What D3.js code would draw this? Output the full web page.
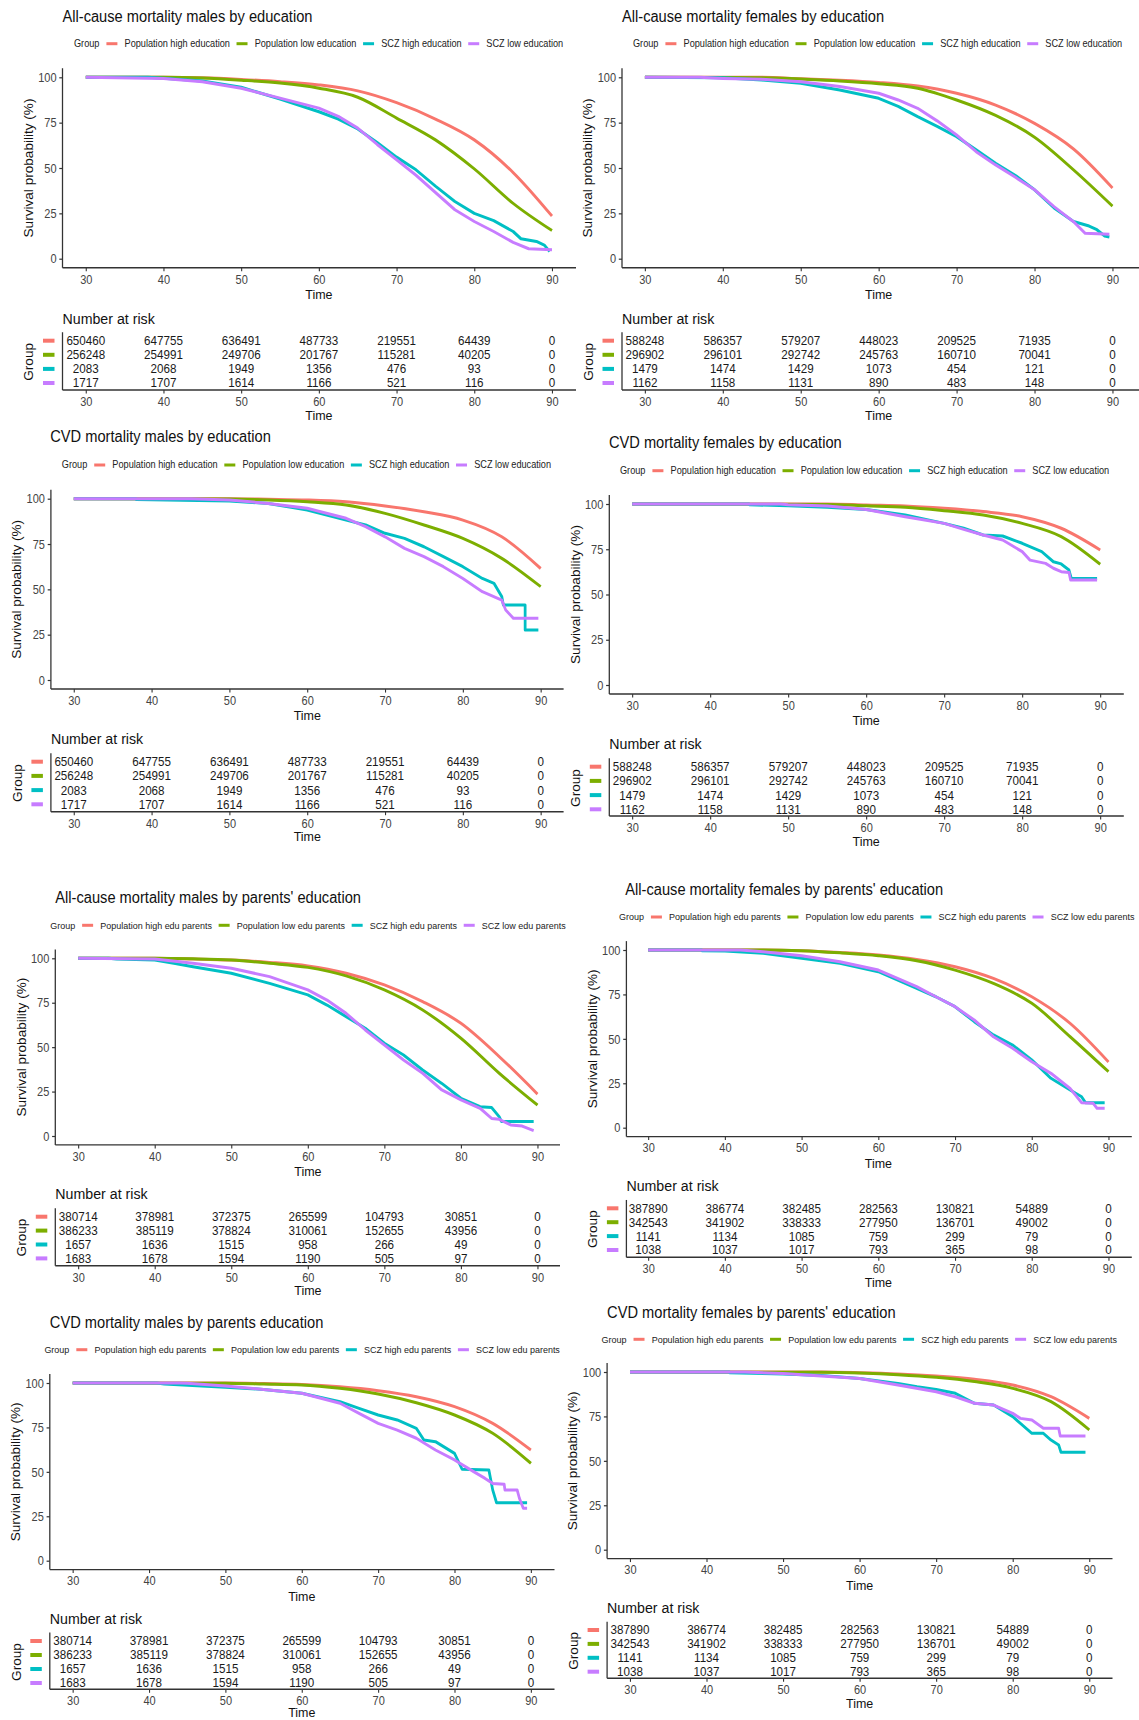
<!DOCTYPE html>
<html>
<head>
<meta charset="utf-8">
<script src="https://cdn.jsdelivr.net/npm/d3@7"></script>
<style>
  body { margin: 0; background: #fff; }
  svg { display: block; font-family: "Liberation Sans", Arial, sans-serif; }
</style>
</head>
<body>
<svg id="chart" width="1139" height="1720"></svg>
<script>
"use strict";

// ---- data ----
const timeTicks = [30, 40, 50, 60, 70, 80, 90];
const survTicks = [0, 25, 50, 75, 100];
const groupColors = ["#F8766D", "#7CAE00", "#00BFC4", "#C77CFF"];

const eduLabels = ["Population high education", "Population low education", "SCZ high education", "SCZ low education"];
const parentLabels = ["Population high edu parents", "Population low edu parents", "SCZ high edu parents", "SCZ low edu parents"];

const titles = [
  "All-cause mortality males by education",
  "All-cause mortality females by education",
  "CVD mortality males by education",
  "CVD mortality females by education",
  "All-cause mortality males by parents' education",
  "All-cause mortality females by parents' education",
  "CVD mortality males by parents education",
  "CVD mortality females by parents' education"
];

// number at risk, rows = groups, columns = timeTicks
const riskMalesEdu = [
  [650460, 647755, 636491, 487733, 219551, 64439, 0],
  [256248, 254991, 249706, 201767, 115281, 40205, 0],
  [2083, 2068, 1949, 1356, 476, 93, 0],
  [1717, 1707, 1614, 1166, 521, 116, 0]
];
const riskFemalesEdu = [
  [588248, 586357, 579207, 448023, 209525, 71935, 0],
  [296902, 296101, 292742, 245763, 160710, 70041, 0],
  [1479, 1474, 1429, 1073, 454, 121, 0],
  [1162, 1158, 1131, 890, 483, 148, 0]
];
const riskMalesParents = [
  [380714, 378981, 372375, 265599, 104793, 30851, 0],
  [386233, 385119, 378824, 310061, 152655, 43956, 0],
  [1657, 1636, 1515, 958, 266, 49, 0],
  [1683, 1678, 1594, 1190, 505, 97, 0]
];
const riskFemalesParents = [
  [387890, 386774, 382485, 282563, 130821, 54889, 0],
  [342543, 341902, 338333, 277950, 136701, 49002, 0],
  [1141, 1134, 1085, 759, 299, 79, 0],
  [1038, 1037, 1017, 793, 365, 98, 0]
];

// survival (%): [age, survival]
const allMalesEduPopHigh = [[30,100],[40,100],[45,99.7],[50,98.8],[55,97.6],[60,95.8],[65,92.5],[70,86],[75,77],[80,65.5],[85,47.5],[90,23.5]];
const allMalesEduPopLow = [[30,100],[40,100],[45,99.6],[50,98.4],[55,96.8],[60,94],[65,89],[70,77.5],[75,65.5],[80,49.5],[85,30.5],[90,15.5]];
const allMalesEduSczHigh = [[30,100],[38,100],[40,99.5],[45,98],[50,94.5],[55,88],[60,81],[62.5,77],[65,71.5],[67.5,64],[70,56],[72.5,49],[75,40],[77.5,31.5],[80,25],[82.5,21],[85,15],[86,11],[88,9.5],[89,7.5],[89.7,4]];
const allMalesEduSczLow = [[30,100],[40,99.3],[45,97.5],[50,94],[55,88.5],[60,83],[62.5,78.5],[65,72],[67.5,63],[70,54.5],[72.5,46],[75,36.5],[77.5,27],[80,20.5],[82.5,15],[85,9],[87,5.5],[90,5]];

const allFemalesEduPopHigh = [[30,100],[45,100],[50,99.2],[55,98.4],[60,97.2],[65,95.2],[70,91.2],[75,84.7],[80,74.6],[85,60.5],[90,39]];
const allFemalesEduPopLow = [[30,100],[45,99.8],[50,99],[55,98],[60,96.5],[65,94],[70,87.5],[75,79],[80,67],[85,49],[90,29]];
const allFemalesEduSczHigh = [[30,100],[40,99.7],[45,98.5],[50,96.7],[55,93],[60,88.4],[62.5,84],[65,78.3],[67.5,73],[70,67.3],[72.5,60],[75,52.6],[77.5,46],[80,38],[82.5,28],[85,20.5],[87,18],[88,16],[89,12.5],[89.6,12]];
const allFemalesEduSczLow = [[30,100],[37,100],[40,99.4],[45,98.9],[50,97.6],[55,94.9],[60,91.2],[62.5,87.5],[65,82.9],[67.5,76],[70,68.2],[72.5,59],[75,51.7],[77.5,45],[80,38],[82.5,28.7],[85,20.4],[86.5,14],[89.6,13.5]];

const cvdMalesEduPopHigh = [[30,100],[50,100],[55,99.7],[60,99.3],[65,98.3],[70,96],[75,92.8],[80,88.2],[85,79],[90,61.5]];
const cvdMalesEduPopLow = [[30,100],[50,99.8],[55,99.3],[60,98.3],[65,96.5],[70,91.9],[75,85.5],[80,78.1],[85,67.1],[90,51.5]];
const cvdMalesEduSczHigh = [[30,100],[38,100],[38,99.5],[50,98.7],[55,97.4],[60,93.8],[65,88.2],[67.5,85.5],[70,80.9],[72.5,78.1],[75,73.5],[77.5,68],[80,62.5],[82.5,56],[84,53.3],[85,46],[85.2,41.4],[88,41.4],[88,27.6],[89.7,27.6]];
const cvdMalesEduSczLow = [[30,100],[45,100],[50,99.3],[55,97.4],[60,94.7],[65,89.2],[67.5,84.6],[70,79],[72.5,72.6],[75,68],[77.5,62.5],[80,56],[82.5,48.7],[85,44.1],[85.5,38.6],[86.5,34],[89.7,34]];

const cvdFemalesEduPopHigh = [[30,100],[55,100],[60,99.4],[65,98.9],[70,97.6],[75,95.8],[80,93],[85,86.6],[90,74.6]];
const cvdFemalesEduPopLow = [[30,100],[55,99.7],[60,99],[65,98.2],[70,96.3],[75,93.9],[80,89.3],[85,82],[90,66.7]];
const cvdFemalesEduSczHigh = [[30,100],[45,100],[45,99.6],[50,99],[55,98.2],[60,97],[65,93.9],[70,89.3],[72.5,86.6],[75,82.9],[77.5,82.3],[80,78.3],[82.5,73.7],[84,68.1],[85,66.9],[86,63.5],[86.3,58.9],[89.6,58.9]];
const cvdFemalesEduSczLow = [[30,100],[49,100],[50,99.6],[55,98.9],[60,97],[65,93],[70,89.3],[72.5,86],[75,82.9],[77.5,80.1],[80,73.7],[81,69],[83,67.2],[84,64.5],[85,62.6],[86,62.2],[86.2,58],[89.6,58]];

const allMalesParPopHigh = [[30,100],[40,100],[45,99.6],[50,99],[55,97.7],[60,95.7],[65,91.6],[70,85],[75,75.6],[80,63.4],[85,44.7],[90,23.6]];
const allMalesParPopLow = [[30,100],[40,100],[45,99.7],[50,99],[55,97.2],[60,94.9],[65,90.1],[70,82.2],[75,70.9],[80,55],[85,35.3],[90,17.4]];
const allMalesParSczHigh = [[30,100],[34,100],[35,99.6],[40,99],[42.5,97.2],[45,95.3],[50,91.6],[55,85.9],[60,79.4],[62.5,73.7],[65,67.2],[67.5,60.6],[70,52.2],[72.5,45.6],[75,37.1],[77.5,29.6],[80,21.2],[82.5,16.5],[84,16.1],[85,10.9],[85.3,8.1],[89.5,8.1]];
const allMalesParSczLow = [[30,100],[40,99.6],[45,97.2],[50,94.4],[55,89.7],[60,82.2],[62.5,76.5],[65,69],[67.5,59.7],[70,51.2],[72.5,42.8],[75,35.3],[77.5,25.9],[80,20.3],[82.5,15.6],[84,9.9],[85,9.4],[86.5,6.2],[88,5.6],[89.5,3]];

const allFemalesParPopHigh = [[30,100],[45,100],[50,99.6],[55,98.6],[60,97.2],[65,94.7],[70,90.6],[75,84],[80,73.7],[85,58.7],[90,37]];
const allFemalesParPopLow = [[30,100],[45,100],[50,99.6],[55,98.4],[60,96.8],[65,94],[70,88.7],[75,81.2],[80,70],[85,51.2],[90,31.5]];
const allFemalesParSczHigh = [[30,100],[37,100],[37,99.6],[40,99.4],[45,98.1],[50,95.3],[55,92.5],[60,87.8],[65,78.4],[67.5,73.7],[70,68.1],[72.5,59.7],[75,52.2],[77.5,46.5],[80,38.1],[82.5,27.8],[85,21.2],[86.5,17.4],[87,14.1],[89.5,14.1]];
const allFemalesParSczLow = [[30,100],[42,100],[45,99],[50,96.8],[55,93.4],[60,88.7],[65,79.4],[67.5,73.7],[70,68.1],[72.5,60.6],[75,51.2],[77.5,44.7],[80,37.1],[82.5,30.6],[85,22.1],[86.5,14.1],[88,13.7],[88.5,10.9],[89.5,10.9]];

const cvdMalesParPopHigh = [[30,100],[50,100],[55,99.7],[60,99.2],[65,97.9],[70,95.7],[75,92.3],[80,86.7],[85,77.3],[90,62.3]];
const cvdMalesParPopLow = [[30,100],[50,99.8],[55,99.4],[60,98.9],[65,97],[70,93.8],[75,88.9],[80,82],[85,71.7],[90,54.8]];
const cvdMalesParSczHigh = [[30,100],[41,100],[42,99.4],[50,97.6],[55,96.4],[60,94.2],[65,89.5],[67.5,85.7],[70,82],[72.5,79.2],[75,74.5],[76,67.9],[77.5,67],[80,60.4],[81,51.4],[84.5,51],[85,39.8],[85.5,32.6],[89.5,32.6]];
const cvdMalesParSczLow = [[30,100],[44,100],[45,99.8],[50,98.3],[55,96.4],[60,94.2],[65,88.6],[67.5,82.9],[70,77.3],[72.5,73.5],[75,68.9],[77.5,62.3],[80,56.7],[82.5,50.1],[84,46.3],[85,43.5],[86.5,43],[86.6,39.8],[88.2,39.8],[88.5,35.1],[89,29.5],[89.5,29.5]];

const cvdFemalesParPopHigh = [[30,100],[55,100],[60,99.6],[65,98.9],[70,97.7],[75,95.9],[80,92.7],[85,86.1],[90,73.9]];
const cvdFemalesParPopLow = [[30,100],[55,99.8],[60,99.4],[65,98.5],[70,97],[75,94.6],[80,90.8],[85,83.3],[90,67.4]];
const cvdFemalesParSczHigh = [[30,100],[43,100],[43,99.6],[50,98.9],[55,98.1],[60,96.4],[65,93.6],[67.5,91.7],[70,90.2],[72.5,88],[75,82.4],[77.5,81.4],[80,74.9],[81,71.1],[82.5,65.5],[84,65.5],[85,61.7],[86,58.9],[86.3,54.8],[89.5,54.8]];
const cvdFemalesParSczLow = [[30,100],[45,100],[50,99.2],[55,97.7],[60,96.4],[65,92.7],[70,88.9],[72.5,86.1],[75,82.4],[77.5,81.4],[80,76.7],[81,73.9],[82.5,73],[84,68.3],[86,68.3],[86.2,64],[89.5,64]];

// ---- layout (page pixels, measured from the figure) ----
// ax: y axis, x30/x90: tick positions, y100/y0: survival 100/0
const panels = [
  { title: titles[0], labels: eduLabels, risk: riskMalesEdu,
    curves: [allMalesEduPopHigh, allMalesEduPopLow, allMalesEduSczHigh, allMalesEduSczLow],
    ax: 62.5, x30: 85.8, x90: 552, axisEnd: 576, y100: 77.3, y0: 258.7, clip: 570,
    titleX: 62.5, titleY: 16, legX: 74, legY: 43.7,
    riskTitleY: 318.3, row1: 340.7, rowStep: 14.1, riskAxis: 390 },
  { title: titles[1], labels: eduLabels, risk: riskFemalesEdu,
    curves: [allFemalesEduPopHigh, allFemalesEduPopLow, allFemalesEduSczHigh, allFemalesEduSczLow],
    ax: 622, x30: 644.9, x90: 1112.5, axisEnd: 1139, y100: 77.3, y0: 258.7, clip: 1139,
    titleX: 622, titleY: 16, legX: 633, legY: 43.7,
    riskTitleY: 318.3, row1: 340.7, rowStep: 14.1, riskAxis: 390 },
  { title: titles[2], labels: eduLabels, risk: riskMalesEdu,
    curves: [cvdMalesEduPopHigh, cvdMalesEduPopLow, cvdMalesEduSczHigh, cvdMalesEduSczLow],
    ax: 50.9, x30: 73.8, x90: 540.7, axisEnd: 563.6, y100: 498.7, y0: 680, clip: 570,
    titleX: 50.2, titleY: 436.7, legX: 61.8, legY: 465,
    riskTitleY: 739, row1: 761.7, rowStep: 14.2, riskAxis: 811.7 },
  { title: titles[3], labels: eduLabels, risk: riskFemalesEdu,
    curves: [cvdFemalesEduPopHigh, cvdFemalesEduPopLow, cvdFemalesEduSczHigh, cvdFemalesEduSczLow],
    ax: 609.3, x30: 632.2, x90: 1100.2, axisEnd: 1123.8, y100: 504, y0: 685, clip: 1139,
    titleX: 608.9, titleY: 442.7, legX: 620, legY: 470.7,
    riskTitleY: 743.3, row1: 766.7, rowStep: 14.2, riskAxis: 816 },
  { title: titles[4], labels: parentLabels, risk: riskMalesParents,
    curves: [allMalesParPopHigh, allMalesParPopLow, allMalesParSczHigh, allMalesParSczLow],
    ax: 55.3, x30: 78.2, x90: 537.5, axisEnd: 560, y100: 958.3, y0: 1136, clip: 570,
    titleX: 55.3, titleY: 897.7, legX: 50.2, legY: 925.3,
    riskTitleY: 1194, row1: 1216.7, rowStep: 13.9, riskAxis: 1265.7 },
  { title: titles[5], labels: parentLabels, risk: riskFemalesParents,
    curves: [allFemalesParPopHigh, allFemalesParPopLow, allFemalesParSczHigh, allFemalesParSczLow],
    ax: 626.4, x30: 648.2, x90: 1108.5, axisEnd: 1131.8, y100: 950, y0: 1127.7, clip: 1139,
    titleX: 625.3, titleY: 889.7, legX: 619, legY: 917,
    riskTitleY: 1185.7, row1: 1208.3, rowStep: 13.9, riskAxis: 1257.3 },
  { title: titles[6], labels: parentLabels, risk: riskMalesParents,
    curves: [cvdMalesParPopHigh, cvdMalesParPopLow, cvdMalesParSczHigh, cvdMalesParSczLow],
    ax: 49.8, x30: 72.7, x90: 530.9, axisEnd: 554.5, y100: 1383, y0: 1560.7, clip: 570,
    titleX: 49.8, titleY: 1322.3, legX: 44.4, legY: 1349.7,
    riskTitleY: 1618.3, row1: 1641, rowStep: 14, riskAxis: 1689.3 },
  { title: titles[7], labels: parentLabels, risk: riskFemalesParents,
    curves: [cvdFemalesParPopHigh, cvdFemalesParPopLow, cvdFemalesParSczHigh, cvdFemalesParSczLow],
    ax: 607.1, x30: 630, x90: 1089.3, axisEnd: 1112.5, y100: 1372, y0: 1549.7, clip: 1139,
    titleX: 607.1, titleY: 1312, legX: 601.6, legY: 1339.3,
    riskTitleY: 1607.3, row1: 1630, rowStep: 13.9, riskAxis: 1678.3 }
];

// the source figure is squeezed horizontally; draw in unsqueezed units
const SX = 0.9167;
const vx = (px) => px / SX;

const svg = d3.select("#chart");
const defs = svg.append("defs");
const root = svg.append("g").attr("transform", `scale(${SX},1)`);

const AXIS_COLOR = "#333";
const TICK_TEXT = "#444";

panels.forEach(drawPanel);

function styleAxis(sel) {
  sel.select(".domain").remove();
  sel.selectAll(".tick line").attr("stroke", AXIS_COLOR).attr("stroke-width", 1.2);
  sel.selectAll(".tick text")
    .attr("fill", TICK_TEXT)
    .style("font-size", "12px")
    .style("font-family", "Liberation Sans, Arial, sans-serif");
}

function drawPanel(p, i) {
  const g = root.append("g").attr("class", `panel panel-${i}`);

  const x = d3.scaleLinear().domain([30, 90]).range([vx(p.x30), vx(p.x90)]);
  const y = d3.scaleLinear().domain([0, 100]).range([p.y0, p.y100]);
  const left = vx(p.ax);
  const right = vx(p.axisEnd);
  const top = y(105);
  const bottom = y(-5);

  // title
  g.append("text")
    .attr("x", vx(p.titleX)).attr("y", p.titleY).attr("dy", "0.35em")
    .style("font-size", "16px").attr("fill", "#111")
    .text(p.title);

  // legend
  const clipId = `clip-${i}`;
  defs.append("clipPath").attr("id", clipId)
    .append("rect")
    .attr("x", 0).attr("y", 0)
    .attr("width", vx(p.clip)).attr("height", 1720);

  const legFont = p.labels === parentLabels ? "9.8px" : "10px";
  const legend = g.append("g").attr("clip-path", `url(#${clipId})`);
  let cx = vx(p.legX);
  const groupTitle = legend.append("text")
    .attr("x", cx).attr("y", p.legY).attr("dy", "0.35em")
    .style("font-size", legFont).attr("fill", "#222")
    .text("Group");
  cx += groupTitle.node().getComputedTextLength() + 7.6;
  p.labels.forEach((label, k) => {
    legend.append("line")
      .attr("x1", cx).attr("x2", cx + 12)
      .attr("y1", p.legY).attr("y2", p.legY)
      .attr("stroke", groupColors[k]).attr("stroke-width", 3);
    cx += 12 + 7.8;
    const t = legend.append("text")
      .attr("x", cx).attr("y", p.legY).attr("dy", "0.35em")
      .style("font-size", legFont).attr("fill", "#222")
      .text(label);
    cx += t.node().getComputedTextLength() + 7.2;
  });

  // axes of survival plot
  const yAxis = g.append("g")
    .attr("transform", `translate(${left},0)`)
    .call(d3.axisLeft(y).tickValues(survTicks).tickSize(3.5).tickPadding(3));
  styleAxis(yAxis);
  yAxis.selectAll(".tick text").attr("dy", "0.35em");

  const xAxis = g.append("g")
    .attr("transform", `translate(0,${bottom})`)
    .call(d3.axisBottom(x).tickValues(timeTicks).tickSize(3.5));
  styleAxis(xAxis);
  xAxis.selectAll(".tick text").attr("y", 11.6).attr("dy", "0.35em");

  g.append("line")
    .attr("x1", left).attr("x2", left).attr("y1", top).attr("y2", bottom)
    .attr("stroke", AXIS_COLOR).attr("stroke-width", 1.4);
  g.append("line")
    .attr("x1", left).attr("x2", right).attr("y1", bottom).attr("y2", bottom)
    .attr("stroke", AXIS_COLOR).attr("stroke-width", 1.4);

  g.append("text")
    .attr("transform", `translate(${vx(p.ax - 34)},${y(50)}) rotate(-90)`)
    .attr("text-anchor", "middle").attr("dy", "0.35em")
    .style("font-size", "13.6px").attr("fill", "#111")
    .text("Survival probability (%)");
  g.append("text")
    .attr("x", x(60)).attr("y", bottom + 26.6).attr("dy", "0.35em")
    .attr("text-anchor", "middle")
    .style("font-size", "13.6px").attr("fill", "#111")
    .text("Time");

  // curves: population groups are smooth, SCZ groups are stepwise
  p.curves.forEach((series, k) => {
    const line = d3.line()
      .x((d) => x(d[0]))
      .y((d) => y(d[1]))
      .curve(k < 2 ? d3.curveMonotoneX : d3.curveLinear);
    g.append("path")
      .datum(series)
      .attr("d", line)
      .attr("fill", "none")
      .attr("stroke", groupColors[k])
      .attr("stroke-width", 3)
      .attr("stroke-linejoin", "round");
  });

  // risk table
  const rowY = (k) => p.row1 + k * p.rowStep;
  const tableTop = p.row1 - 0.6 * p.rowStep;

  g.append("text")
    .attr("x", left).attr("y", p.riskTitleY).attr("dy", "0.35em")
    .style("font-size", "15.5px").attr("fill", "#111")
    .text("Number at risk");

  const riskAxis = g.append("g")
    .attr("transform", `translate(0,${p.riskAxis})`)
    .call(d3.axisBottom(x).tickValues(timeTicks).tickSize(3.5));
  styleAxis(riskAxis);
  riskAxis.selectAll(".tick text").attr("y", 11.7).attr("dy", "0.35em");

  g.append("line")
    .attr("x1", left).attr("x2", left).attr("y1", tableTop).attr("y2", p.riskAxis)
    .attr("stroke", AXIS_COLOR).attr("stroke-width", 1.4);
  g.append("line")
    .attr("x1", left).attr("x2", right).attr("y1", p.riskAxis).attr("y2", p.riskAxis)
    .attr("stroke", AXIS_COLOR).attr("stroke-width", 1.4);

  p.risk.forEach((row, k) => {
    g.append("line")
      .attr("x1", vx(p.ax - 19.5)).attr("x2", vx(p.ax - 8))
      .attr("y1", rowY(k)).attr("y2", rowY(k))
      .attr("stroke", groupColors[k]).attr("stroke-width", 4);
    g.selectAll(null)
      .data(row)
      .join("text")
      .attr("x", (d, j) => x(timeTicks[j]))
      .attr("y", rowY(k)).attr("dy", "0.35em")
      .attr("text-anchor", "middle")
      .style("font-size", "12.7px").attr("fill", "#1a1a1a")
      .text((d) => d);
  });

  g.append("text")
    .attr("transform", `translate(${vx(p.ax - 33.5)},${(rowY(0) + rowY(3)) / 2}) rotate(-90)`)
    .attr("text-anchor", "middle").attr("dy", "0.35em")
    .style("font-size", "13.6px").attr("fill", "#111")
    .text("Group");
  g.append("text")
    .attr("x", x(60)).attr("y", Math.min(p.riskAxis + 25, 1712)).attr("dy", "0.35em")
    .attr("text-anchor", "middle")
    .style("font-size", "13.6px").attr("fill", "#111")
    .text("Time");
}
</script>
</body>
</html>
